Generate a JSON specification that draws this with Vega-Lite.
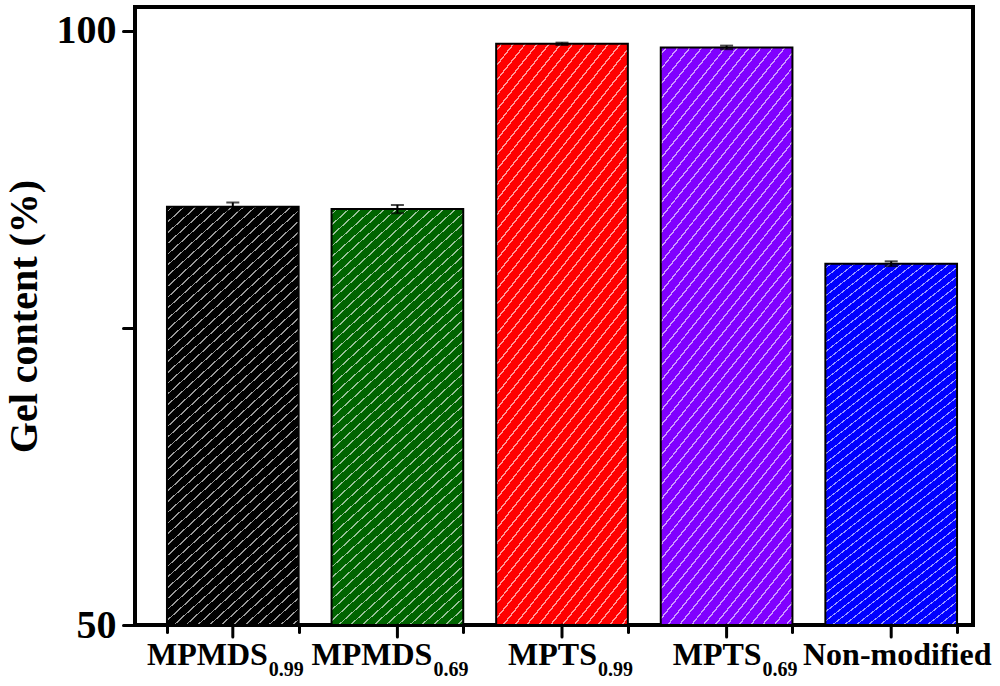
{
  "$schema": "https://vega.github.io/schema/vega-lite/v6.json",
  "width": 838,
  "height": 618,
  "autosize": "none",
  "padding": {"left": 135, "top": 7, "right": 27, "bottom": 61},
  "background": "white",
  "config": {"view": {"stroke": "black", "strokeWidth": 4}, "font": "Liberation Serif"},
  "data": {"values": [
    {"name": "MPMDS0.99", "main": "MPMDS", "sub": "0.99", "value": 85.2, "err": 0.35},
    {"name": "MPMDS0.69", "main": "MPMDS", "sub": "0.69", "value": 85.0, "err": 0.35},
    {"name": "MPTS0.99", "main": "MPTS", "sub": "0.99", "value": 98.9, "err": 0.1},
    {"name": "MPTS0.69", "main": "MPTS", "sub": "0.69", "value": 98.6, "err": 0.15},
    {"name": "Non-modified", "main": "Non-modified", "sub": "", "value": 80.4, "err": 0.2}
  ]},
  "encoding": {
    "x": {
      "field": "name", "type": "nominal", "sort": null,
      "scale": {"paddingInner": 0.2, "paddingOuter": 0.1456, "align": 0.667},
      "axis": {"title": null, "labels": false, "domain": false, "tickBand": "extent", "tickSize": 7, "tickWidth": 3, "tickColor": "black", "tickCap": "round"}
    }
  },
  "layer": [
    {
      "mark": {"type": "bar"},
      "encoding": {
        "y": {"field": "value", "type": "quantitative", "title": "Gel content (%)",
          "scale": {"domain": [50, 102], "zero": false, "nice": false},
          "axis": {"values": [50, 75, 100], "labelExpr": "datum.value == 75 ? '' : datum.label",
            "domain": false, "grid": false, "tickSize": 12, "tickWidth": 3, "tickColor": "black", "tickCap": "round",
            "labelFont": "Liberation Serif", "labelFontWeight": "bold", "labelFontSize": 40, "labelColor": "black", "labelPadding": 7,
            "title": "Gel content (%)", "titleFont": "Liberation Serif", "titleFontWeight": "bold", "titleFontSize": 40, "titleColor": "black", "titlePadding": 12}},
        "y2": {"datum": 50},
        "fill": {"field": "name", "type": "nominal", "legend": null,
          "scale": {"domain": ["MPMDS0.99", "MPMDS0.69", "MPTS0.99", "MPTS0.69", "Non-modified"],
            "range": ["#000000", "#006400", "#ff0000", "#8000ff", "#0000ff"]}}
      }
    },
    {
      "mark": {"type": "bar", "stroke": "black", "strokeWidth": 2,
        "fill": {"gradient": "linear", "x1": 0, "y1": 0, "x2": 0.3396, "y2": 1.1887, "stops": [
{"offset":0.008,"color":"#ffffff00"},{"offset":0.008,"color":"#ffffff99"},{"offset":0.011,"color":"#ffffff99"},{"offset":0.011,"color":"#ffffff00"},
{"offset":0.028,"color":"#ffffff00"},{"offset":0.028,"color":"#ffffff99"},{"offset":0.031,"color":"#ffffff99"},{"offset":0.031,"color":"#ffffff00"},
{"offset":0.048,"color":"#ffffff00"},{"offset":0.048,"color":"#ffffff99"},{"offset":0.051,"color":"#ffffff99"},{"offset":0.051,"color":"#ffffff00"},
{"offset":0.068,"color":"#ffffff00"},{"offset":0.068,"color":"#ffffff99"},{"offset":0.071,"color":"#ffffff99"},{"offset":0.071,"color":"#ffffff00"},
{"offset":0.088,"color":"#ffffff00"},{"offset":0.088,"color":"#ffffff99"},{"offset":0.091,"color":"#ffffff99"},{"offset":0.091,"color":"#ffffff00"},
{"offset":0.108,"color":"#ffffff00"},{"offset":0.108,"color":"#ffffff99"},{"offset":0.111,"color":"#ffffff99"},{"offset":0.111,"color":"#ffffff00"},
{"offset":0.128,"color":"#ffffff00"},{"offset":0.128,"color":"#ffffff99"},{"offset":0.131,"color":"#ffffff99"},{"offset":0.131,"color":"#ffffff00"},
{"offset":0.148,"color":"#ffffff00"},{"offset":0.148,"color":"#ffffff99"},{"offset":0.151,"color":"#ffffff99"},{"offset":0.151,"color":"#ffffff00"},
{"offset":0.168,"color":"#ffffff00"},{"offset":0.168,"color":"#ffffff99"},{"offset":0.171,"color":"#ffffff99"},{"offset":0.171,"color":"#ffffff00"},
{"offset":0.188,"color":"#ffffff00"},{"offset":0.188,"color":"#ffffff99"},{"offset":0.191,"color":"#ffffff99"},{"offset":0.191,"color":"#ffffff00"},
{"offset":0.208,"color":"#ffffff00"},{"offset":0.208,"color":"#ffffff99"},{"offset":0.211,"color":"#ffffff99"},{"offset":0.211,"color":"#ffffff00"},
{"offset":0.228,"color":"#ffffff00"},{"offset":0.228,"color":"#ffffff99"},{"offset":0.231,"color":"#ffffff99"},{"offset":0.231,"color":"#ffffff00"},
{"offset":0.248,"color":"#ffffff00"},{"offset":0.248,"color":"#ffffff99"},{"offset":0.251,"color":"#ffffff99"},{"offset":0.251,"color":"#ffffff00"},
{"offset":0.268,"color":"#ffffff00"},{"offset":0.268,"color":"#ffffff99"},{"offset":0.271,"color":"#ffffff99"},{"offset":0.271,"color":"#ffffff00"},
{"offset":0.288,"color":"#ffffff00"},{"offset":0.288,"color":"#ffffff99"},{"offset":0.291,"color":"#ffffff99"},{"offset":0.291,"color":"#ffffff00"},
{"offset":0.308,"color":"#ffffff00"},{"offset":0.308,"color":"#ffffff99"},{"offset":0.311,"color":"#ffffff99"},{"offset":0.311,"color":"#ffffff00"},
{"offset":0.328,"color":"#ffffff00"},{"offset":0.328,"color":"#ffffff99"},{"offset":0.331,"color":"#ffffff99"},{"offset":0.331,"color":"#ffffff00"},
{"offset":0.348,"color":"#ffffff00"},{"offset":0.348,"color":"#ffffff99"},{"offset":0.351,"color":"#ffffff99"},{"offset":0.351,"color":"#ffffff00"},
{"offset":0.368,"color":"#ffffff00"},{"offset":0.368,"color":"#ffffff99"},{"offset":0.371,"color":"#ffffff99"},{"offset":0.371,"color":"#ffffff00"},
{"offset":0.388,"color":"#ffffff00"},{"offset":0.388,"color":"#ffffff99"},{"offset":0.391,"color":"#ffffff99"},{"offset":0.391,"color":"#ffffff00"},
{"offset":0.408,"color":"#ffffff00"},{"offset":0.408,"color":"#ffffff99"},{"offset":0.411,"color":"#ffffff99"},{"offset":0.411,"color":"#ffffff00"},
{"offset":0.428,"color":"#ffffff00"},{"offset":0.428,"color":"#ffffff99"},{"offset":0.431,"color":"#ffffff99"},{"offset":0.431,"color":"#ffffff00"},
{"offset":0.448,"color":"#ffffff00"},{"offset":0.448,"color":"#ffffff99"},{"offset":0.451,"color":"#ffffff99"},{"offset":0.451,"color":"#ffffff00"},
{"offset":0.468,"color":"#ffffff00"},{"offset":0.468,"color":"#ffffff99"},{"offset":0.471,"color":"#ffffff99"},{"offset":0.471,"color":"#ffffff00"},
{"offset":0.488,"color":"#ffffff00"},{"offset":0.488,"color":"#ffffff99"},{"offset":0.491,"color":"#ffffff99"},{"offset":0.491,"color":"#ffffff00"},
{"offset":0.508,"color":"#ffffff00"},{"offset":0.508,"color":"#ffffff99"},{"offset":0.511,"color":"#ffffff99"},{"offset":0.511,"color":"#ffffff00"},
{"offset":0.528,"color":"#ffffff00"},{"offset":0.528,"color":"#ffffff99"},{"offset":0.531,"color":"#ffffff99"},{"offset":0.531,"color":"#ffffff00"},
{"offset":0.548,"color":"#ffffff00"},{"offset":0.548,"color":"#ffffff99"},{"offset":0.551,"color":"#ffffff99"},{"offset":0.551,"color":"#ffffff00"},
{"offset":0.568,"color":"#ffffff00"},{"offset":0.568,"color":"#ffffff99"},{"offset":0.571,"color":"#ffffff99"},{"offset":0.571,"color":"#ffffff00"},
{"offset":0.588,"color":"#ffffff00"},{"offset":0.588,"color":"#ffffff99"},{"offset":0.591,"color":"#ffffff99"},{"offset":0.591,"color":"#ffffff00"},
{"offset":0.608,"color":"#ffffff00"},{"offset":0.608,"color":"#ffffff99"},{"offset":0.611,"color":"#ffffff99"},{"offset":0.611,"color":"#ffffff00"},
{"offset":0.628,"color":"#ffffff00"},{"offset":0.628,"color":"#ffffff99"},{"offset":0.631,"color":"#ffffff99"},{"offset":0.631,"color":"#ffffff00"},
{"offset":0.648,"color":"#ffffff00"},{"offset":0.648,"color":"#ffffff99"},{"offset":0.651,"color":"#ffffff99"},{"offset":0.651,"color":"#ffffff00"},
{"offset":0.668,"color":"#ffffff00"},{"offset":0.668,"color":"#ffffff99"},{"offset":0.671,"color":"#ffffff99"},{"offset":0.671,"color":"#ffffff00"},
{"offset":0.688,"color":"#ffffff00"},{"offset":0.688,"color":"#ffffff99"},{"offset":0.691,"color":"#ffffff99"},{"offset":0.691,"color":"#ffffff00"},
{"offset":0.708,"color":"#ffffff00"},{"offset":0.708,"color":"#ffffff99"},{"offset":0.711,"color":"#ffffff99"},{"offset":0.711,"color":"#ffffff00"},
{"offset":0.728,"color":"#ffffff00"},{"offset":0.728,"color":"#ffffff99"},{"offset":0.731,"color":"#ffffff99"},{"offset":0.731,"color":"#ffffff00"},
{"offset":0.748,"color":"#ffffff00"},{"offset":0.748,"color":"#ffffff99"},{"offset":0.751,"color":"#ffffff99"},{"offset":0.751,"color":"#ffffff00"},
{"offset":0.768,"color":"#ffffff00"},{"offset":0.768,"color":"#ffffff99"},{"offset":0.771,"color":"#ffffff99"},{"offset":0.771,"color":"#ffffff00"},
{"offset":0.788,"color":"#ffffff00"},{"offset":0.788,"color":"#ffffff99"},{"offset":0.791,"color":"#ffffff99"},{"offset":0.791,"color":"#ffffff00"},
{"offset":0.808,"color":"#ffffff00"},{"offset":0.808,"color":"#ffffff99"},{"offset":0.811,"color":"#ffffff99"},{"offset":0.811,"color":"#ffffff00"},
{"offset":0.828,"color":"#ffffff00"},{"offset":0.828,"color":"#ffffff99"},{"offset":0.831,"color":"#ffffff99"},{"offset":0.831,"color":"#ffffff00"},
{"offset":0.848,"color":"#ffffff00"},{"offset":0.848,"color":"#ffffff99"},{"offset":0.851,"color":"#ffffff99"},{"offset":0.851,"color":"#ffffff00"},
{"offset":0.868,"color":"#ffffff00"},{"offset":0.868,"color":"#ffffff99"},{"offset":0.871,"color":"#ffffff99"},{"offset":0.871,"color":"#ffffff00"},
{"offset":0.888,"color":"#ffffff00"},{"offset":0.888,"color":"#ffffff99"},{"offset":0.891,"color":"#ffffff99"},{"offset":0.891,"color":"#ffffff00"},
{"offset":0.908,"color":"#ffffff00"},{"offset":0.908,"color":"#ffffff99"},{"offset":0.911,"color":"#ffffff99"},{"offset":0.911,"color":"#ffffff00"},
{"offset":0.928,"color":"#ffffff00"},{"offset":0.928,"color":"#ffffff99"},{"offset":0.931,"color":"#ffffff99"},{"offset":0.931,"color":"#ffffff00"},
{"offset":0.948,"color":"#ffffff00"},{"offset":0.948,"color":"#ffffff99"},{"offset":0.951,"color":"#ffffff99"},{"offset":0.951,"color":"#ffffff00"},
{"offset":0.968,"color":"#ffffff00"},{"offset":0.968,"color":"#ffffff99"},{"offset":0.971,"color":"#ffffff99"},{"offset":0.971,"color":"#ffffff00"},
{"offset":0.988,"color":"#ffffff00"},{"offset":0.988,"color":"#ffffff99"},{"offset":0.991,"color":"#ffffff99"},{"offset":0.991,"color":"#ffffff00"}
        ]}},
      "encoding": {
        "y": {"field": "value", "type": "quantitative", "title": "Gel content (%)"},
        "y2": {"datum": 50}
      }
    },
    {
      "mark": {"type": "errorbar", "ticks": {"size": 13, "thickness": 2, "color": "black"}, "rule": {"strokeWidth": 2, "color": "black"}},
      "encoding": {
        "y": {"field": "value", "type": "quantitative", "title": "Gel content (%)"},
        "yError": {"field": "err"}
      }
    },
    {
      "mark": {"type": "rule", "strokeWidth": 3, "color": "black", "strokeCap": "round"},
      "encoding": {
        "y": {"datum": 50},
        "y2": {"datum": 49}
      }
    },
    {
      "transform": [{"filter": "datum.sub != ''"}],
      "mark": {"type": "text", "align": "right", "baseline": "alphabetic", "dx": 35, "dy": 40, "font": "Liberation Serif", "fontWeight": "bold", "fontSize": 32, "color": "black"},
      "encoding": {"y": {"datum": 50}, "text": {"field": "main"}}
    },
    {
      "transform": [{"filter": "datum.sub != ''"}],
      "mark": {"type": "text", "align": "left", "baseline": "alphabetic", "dx": 36, "dy": 51, "font": "Liberation Serif", "fontWeight": "bold", "fontSize": 20, "color": "black"},
      "encoding": {"y": {"datum": 50}, "text": {"field": "sub"}}
    },
    {
      "transform": [{"filter": "datum.sub == ''"}],
      "mark": {"type": "text", "align": "center", "baseline": "alphabetic", "dx": 6, "dy": 40, "font": "Liberation Serif", "fontWeight": "bold", "fontSize": 32, "color": "black"},
      "encoding": {"y": {"datum": 50}, "text": {"field": "main"}}
    }
  ]
}
